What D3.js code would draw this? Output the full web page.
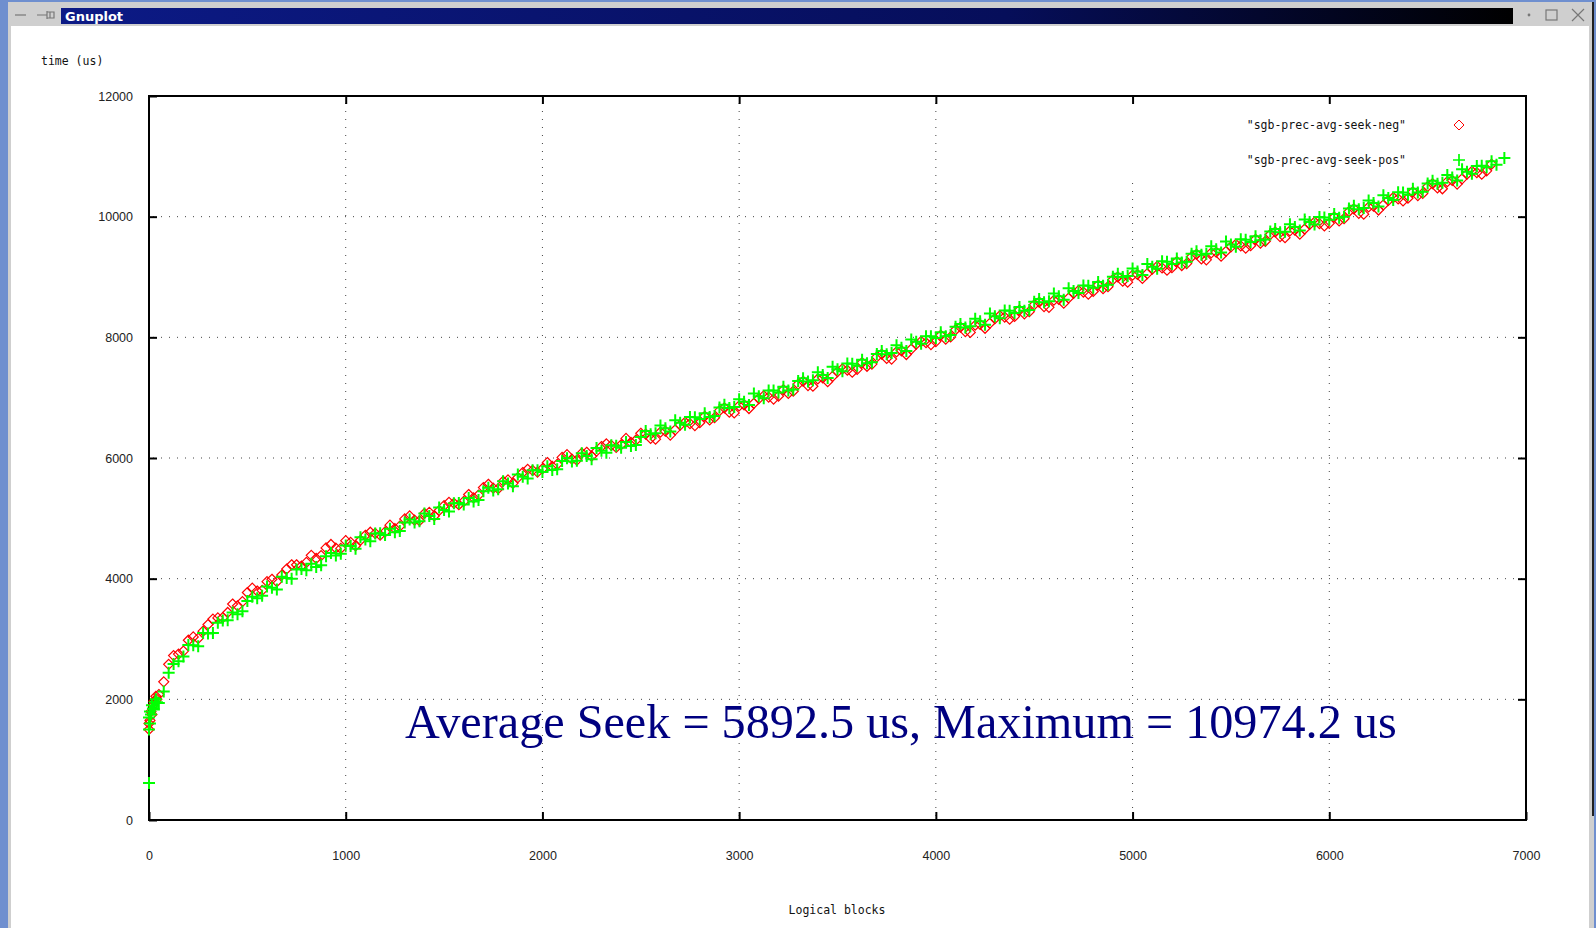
<!doctype html>
<meta charset=utf8>
<title>Gnuplot</title>
<style>
  body {
    margin: 0;
    background: #6f8fcf;
  }

  svg {
    display: block;
  }

  .tick text {
    font-family: "Liberation Sans", Arial, sans-serif;
    font-size: 12.5px;
    fill: #222;
  }

  .mono {
    font-family: "DejaVu Sans Mono", monospace;
    font-size: 11.5px;
    fill: #111;
  }

  .grid line {
    stroke: #444;
    stroke-width: 1;
    stroke-dasharray: 1, 7;
  }
</style>
<svg width=1596 height=928 viewBox="0 0 1596 928"></svg>
<script src=https://d3js.org/d3.v7.min.js></script>
<script>
  // axis ticks
  var xTicks = [0, 1000, 2000, 3000, 4000, 5000, 6000, 7000];
  var yTicks = [0, 2000, 4000, 6000, 8000, 10000, 12000];

  var seriesNames = ['"sgb-prec-avg-seek-neg"', '"sgb-prec-avg-seek-pos"'];
  var summary = 'Average Seek = 5892.5 us, Maximum = 10974.2 us';

  // red diamonds (logical block, time in us)
  var negPoints = [
    [0, 1500], [0, 1600], [5, 1650], [10, 1800], [15, 1750], [20, 1900], [25, 1970], [35, 2050], [40, 2000],
    [50, 2080], [75, 2290], [100, 2580], [125, 2725], [150, 2750], [175, 2800], [200, 2980], [225, 3035],
    [250, 3010], [275, 3130], [300, 3240], [325, 3330], [350, 3350], [375, 3355], [400, 3440], [425, 3580],
    [450, 3550], [475, 3620], [500, 3770], [525, 3842], [550, 3795], [575, 3807], [600, 3950], [625, 3990],
    [650, 3950], [675, 4060], [700, 4160], [725, 4230], [750, 4230], [775, 4210], [800, 4270], [825, 4387],
    [850, 4335], [875, 4382], [900, 4510], [925, 4567], [950, 4505], [975, 4502], [1000, 4630], [1025, 4602],
    [1050, 4545], [1075, 4637], [1100, 4720], [1125, 4770], [1150, 4750], [1175, 4722], [1200, 4775],
    [1225, 4887], [1250, 4830], [1275, 4870], [1300, 4990], [1325, 5040], [1350, 4970], [1375, 4960],
    [1400, 5080], [1425, 5100], [1450, 5040], [1475, 5130], [1500, 5210], [1525, 5265], [1550, 5250],
    [1575, 5225], [1600, 5280], [1625, 5395], [1650, 5340], [1675, 5385], [1700, 5510], [1725, 5565],
    [1750, 5500], [1775, 5492], [1800, 5615], [1825, 5637], [1850, 5580], [1875, 5675], [1900, 5760],
    [1925, 5812], [1950, 5795], [1975, 5767], [2000, 5820], [2025, 5925], [2050, 5860], [2075, 5895],
    [2100, 6010], [2125, 6055], [2150, 5980], [2175, 5965], [2200, 6080], [2225, 6095], [2250, 6030],
    [2275, 6115], [2300, 6190], [2325, 6235], [2350, 6210], [2375, 6175], [2400, 6220], [2425, 6325],
    [2450, 6260], [2475, 6295], [2500, 6410], [2525, 6397], [2550, 6325], [2575, 6312], [2600, 6430],
    [2625, 6445], [2650, 6380], [2675, 6467], [2700, 6545], [2725, 6592], [2750, 6570], [2775, 6537],
    [2800, 6585], [2825, 6692], [2850, 6630], [2875, 6667], [2900, 6785], [2925, 6832], [2950, 6760],
    [2975, 6747], [3000, 6865], [3025, 6882], [3050, 6820], [3075, 6907], [3100, 6985], [3125, 7032],
    [3150, 7010], [3175, 6977], [3200, 7025], [3225, 7132], [3250, 7070], [3275, 7107], [3300, 7225],
    [3325, 7272], [3350, 7200], [3375, 7190], [3400, 7310], [3425, 7327], [3450, 7265], [3475, 7352],
    [3500, 7430], [3525, 7477], [3550, 7455], [3575, 7422], [3600, 7470], [3625, 7580], [3650, 7520],
    [3675, 7557], [3700, 7675], [3725, 7722], [3750, 7650], [3775, 7640], [3800, 7760], [3825, 7777],
    [3850, 7715], [3875, 7805], [3900, 7885], [3925, 7932], [3950, 7910], [3975, 7880], [4000, 7930],
    [4025, 8035], [4050, 7970], [4075, 8007], [4100, 8125], [4125, 8170], [4150, 8095], [4175, 8082],
    [4200, 8200], [4225, 8215], [4250, 8150], [4275, 8235], [4300, 8310], [4325, 8357], [4350, 8335],
    [4375, 8300], [4400, 8345], [4425, 8452], [4450, 8390], [4475, 8425], [4500, 8540], [4525, 8585],
    [4550, 8510], [4575, 8497], [4600, 8615], [4625, 8630], [4650, 8565], [4675, 8652], [4700, 8730],
    [4725, 8775], [4750, 8750], [4775, 8715], [4800, 8760], [4825, 8867], [4850, 8805], [4875, 8840],
    [4900, 8955], [4925, 9002], [4950, 8930], [4975, 8915], [5000, 9030], [5025, 9042], [5050, 8975],
    [5075, 9057], [5100, 9130], [5125, 9175], [5150, 9150], [5175, 9112], [5200, 9155], [5225, 9257],
    [5250, 9190], [5275, 9222], [5300, 9335], [5325, 9377], [5350, 9300], [5375, 9285], [5400, 9400],
    [5425, 9412], [5450, 9345], [5475, 9427], [5500, 9500], [5525, 9542], [5550, 9515], [5575, 9477],
    [5600, 9520], [5625, 9625], [5650, 9560], [5675, 9592], [5700, 9705], [5725, 9747], [5750, 9670],
    [5775, 9652], [5800, 9765], [5825, 9777], [5850, 9710], [5875, 9795], [5900, 9870], [5925, 9912],
    [5950, 9885], [5975, 9847], [6000, 9890], [6025, 9995], [6050, 9930], [6075, 9967], [6100, 10085],
    [6125, 10130], [6150, 10055], [6175, 10042], [6200, 10160], [6225, 10175], [6250, 10110],
    [6275, 10195], [6300, 10270], [6325, 10317], [6350, 10295], [6375, 10260], [6400, 10305],
    [6425, 10412], [6450, 10350], [6475, 10385], [6500, 10500], [6525, 10547], [6550, 10475],
    [6575, 10462], [6600, 10580], [6625, 10600], [6650, 10540], [6675, 10627], [6700, 10705],
    [6725, 10752], [6750, 10730], [6775, 10705], [6800, 10760], [6825, 10870]
  ];

  // green crosses (logical block, time in us)
  var posPoints = [
    [0, 613], [0, 1500], [0, 1700], [5, 1600], [5, 1800], [10, 1750], [15, 1900], [20, 1850], [25, 1830],
    [30, 1950], [35, 2000], [40, 1950], [50, 1940], [75, 2130], [100, 2440], [125, 2585], [150, 2630],
    [175, 2710], [200, 2900], [225, 2895], [250, 2880], [275, 3100], [300, 3090], [325, 3100], [350, 3270],
    [375, 3305], [400, 3310], [425, 3440], [450, 3410], [475, 3460], [500, 3630], [525, 3702], [550, 3675],
    [575, 3717], [600, 3870], [625, 3850], [650, 3820], [675, 4030], [700, 4010], [725, 4000], [750, 4150],
    [775, 4160], [800, 4140], [825, 4247], [850, 4195], [875, 4222], [900, 4370], [925, 4427], [950, 4385],
    [975, 4412], [1000, 4550], [1025, 4542], [1050, 4495], [1075, 4687], [1100, 4650], [1125, 4620],
    [1150, 4750], [1175, 4752], [1200, 4725], [1225, 4827], [1250, 4770], [1275, 4790], [1300, 4930],
    [1325, 4980], [1350, 4930], [1375, 4950], [1400, 5080], [1425, 5040], [1450, 4990], [1475, 5180],
    [1500, 5140], [1525, 5115], [1550, 5250], [1575, 5255], [1600, 5230], [1625, 5335], [1650, 5280],
    [1675, 5305], [1700, 5450], [1725, 5505], [1750, 5460], [1775, 5482], [1800, 5615], [1825, 5577],
    [1850, 5530], [1875, 5725], [1900, 5690], [1925, 5662], [1950, 5795], [1975, 5797], [2000, 5770],
    [2025, 5865], [2050, 5800], [2075, 5815], [2100, 5950], [2125, 5995], [2150, 5940], [2175, 5955],
    [2200, 6080], [2225, 6035], [2250, 5980], [2275, 6165], [2300, 6120], [2325, 6085], [2350, 6210],
    [2375, 6205], [2400, 6170], [2425, 6265], [2450, 6200], [2475, 6215], [2500, 6350], [2525, 6447],
    [2550, 6395], [2575, 6412], [2600, 6540], [2625, 6495], [2650, 6440], [2675, 6627], [2700, 6585],
    [2725, 6552], [2750, 6680], [2775, 6677], [2800, 6645], [2825, 6742], [2850, 6680], [2875, 6697],
    [2900, 6835], [2925, 6882], [2950, 6830], [2975, 6847], [3000, 6975], [3025, 6932], [3050, 6880],
    [3075, 7067], [3100, 7025], [3125, 6992], [3150, 7120], [3175, 7117], [3200, 7085], [3225, 7182],
    [3250, 7120], [3275, 7137], [3300, 7275], [3325, 7322], [3350, 7270], [3375, 7290], [3400, 7420],
    [3425, 7377], [3450, 7325], [3475, 7512], [3500, 7470], [3525, 7437], [3550, 7565], [3575, 7562],
    [3600, 7530], [3625, 7630], [3650, 7570], [3675, 7587], [3700, 7725], [3725, 7772], [3750, 7720],
    [3775, 7740], [3800, 7870], [3825, 7827], [3850, 7775], [3875, 7965], [3900, 7925], [3925, 7892],
    [3950, 8020], [3975, 8020], [4000, 7990], [4025, 8085], [4050, 8020], [4075, 8037], [4100, 8175],
    [4125, 8220], [4150, 8165], [4175, 8182], [4200, 8310], [4225, 8265], [4250, 8210], [4275, 8395],
    [4300, 8350], [4325, 8317], [4350, 8445], [4375, 8440], [4400, 8405], [4425, 8502], [4450, 8440],
    [4475, 8455], [4500, 8590], [4525, 8635], [4550, 8580], [4575, 8597], [4600, 8725], [4625, 8680],
    [4650, 8625], [4675, 8812], [4700, 8770], [4725, 8735], [4750, 8860], [4775, 8855], [4800, 8820],
    [4825, 8917], [4850, 8855], [4875, 8870], [4900, 9005], [4925, 9052], [4950, 9000], [4975, 9015],
    [5000, 9140], [5025, 9092], [5050, 9035], [5075, 9217], [5100, 9170], [5125, 9135], [5150, 9260],
    [5175, 9252], [5200, 9215], [5225, 9307], [5250, 9240], [5275, 9252], [5300, 9385], [5325, 9427],
    [5350, 9370], [5375, 9385], [5400, 9510], [5425, 9462], [5450, 9405], [5475, 9587], [5500, 9540],
    [5525, 9502], [5550, 9625], [5575, 9617], [5600, 9580], [5625, 9675], [5650, 9610], [5675, 9622],
    [5700, 9755], [5725, 9797], [5750, 9740], [5775, 9752], [5800, 9875], [5825, 9827], [5850, 9770],
    [5875, 9955], [5900, 9910], [5925, 9872], [5950, 9995], [5975, 9987], [6000, 9950], [6025, 10045],
    [6050, 9980], [6075, 9997], [6100, 10135], [6125, 10180], [6150, 10125], [6175, 10142], [6200, 10270],
    [6225, 10225], [6250, 10170], [6275, 10355], [6300, 10310], [6325, 10277], [6350, 10405],
    [6375, 10400], [6400, 10365], [6425, 10462], [6450, 10400], [6475, 10415], [6500, 10550],
    [6525, 10597], [6550, 10545], [6575, 10562], [6600, 10690], [6625, 10650], [6650, 10600],
    [6675, 10787], [6700, 10745], [6725, 10712], [6750, 10840], [6775, 10845], [6800, 10820],
    [6825, 10920], [6850, 10860], [6890, 10974]
  ];

  var svg = d3.select('svg');

  // plot area in page pixels
  var plot = {left: 149, right: 1526, top: 96, bottom: 820};

  var x = d3.scaleLinear().domain([0, 7000]).range([plot.left, plot.right]);
  var y = d3.scaleLinear().domain([0, 12000]).range([plot.bottom, plot.top]);

  drawWindow();

  // grid (the key box hides the top of the right-hand vertical lines)
  var grid = svg.append('g').attr('class', 'grid');
  grid.selectAll('.gy')
    .data(yTicks.slice(1, -1))
    .enter().append('line')
    .attr('x1', plot.left + 4).attr('x2', plot.right - 4)
    .attr('y1', y).attr('y2', y);
  grid.selectAll('.gx')
    .data(xTicks.slice(1, -1))
    .enter().append('line')
    .attr('x1', x).attr('x2', x)
    .attr('y1', plot.bottom - 4)
    .attr('y2', function(d) { return x(d) > 1100 ? 177 : plot.top + 4; });

  // axes, ticks pointing inwards like gnuplot
  function styleAxis(g) {
    g.select('.domain').remove();
    g.selectAll('.tick line').attr('stroke', '#000').attr('stroke-width', 2);
  }

  svg.append('g')
    .attr('transform', 'translate(0,' + plot.bottom + ')')
    .call(d3.axisBottom(x).tickValues(xTicks).tickSize(-8).tickPadding(31).tickFormat(d3.format('d')))
    .call(styleAxis);
  svg.append('g')
    .attr('transform', 'translate(0,' + plot.top + ')')
    .call(d3.axisTop(x).tickValues(xTicks.slice(1, -1)).tickSize(-8).tickFormat(''))
    .call(styleAxis);
  svg.append('g')
    .attr('transform', 'translate(' + plot.left + ',0)')
    .call(d3.axisLeft(y).tickValues(yTicks).tickSize(-8).tickPadding(16).tickFormat(d3.format('d')))
    .call(styleAxis);
  svg.append('g')
    .attr('transform', 'translate(' + plot.right + ',0)')
    .call(d3.axisRight(y).tickValues(yTicks.slice(1, -1)).tickSize(-8).tickFormat(''))
    .call(styleAxis);

  svg.selectAll('.tick text').attr('font-family', null).attr('font-size', null);

  // border
  svg.append('rect')
    .attr('x', plot.left).attr('y', plot.top)
    .attr('width', plot.right - plot.left).attr('height', plot.bottom - plot.top)
    .attr('fill', 'none').attr('stroke', '#000').attr('stroke-width', 2);

  svg.append('text').attr('class', 'mono')
    .attr('x', 41).attr('y', 65)
    .text('time (us)');
  svg.append('text').attr('class', 'mono')
    .attr('x', 837).attr('y', 914).attr('text-anchor', 'middle')
    .text('Logical blocks');

  var diamond = 'M0,-5L5,0L0,5L-5,0Z';
  var cross = 'M-6,0H6M0,-6V6';

  svg.append('g').selectAll('path')
    .data(negPoints)
    .enter().append('path')
    .attr('transform', function(d) { return 'translate(' + x(d[0]) + ',' + y(d[1]) + ')'; })
    .attr('d', diamond)
    .attr('fill', 'none').attr('stroke', '#ff0000').attr('stroke-width', 1.2);

  svg.append('g').selectAll('path')
    .data(posPoints)
    .enter().append('path')
    .attr('transform', function(d) { return 'translate(' + x(d[0]) + ',' + y(d[1]) + ')'; })
    .attr('d', cross)
    .attr('fill', 'none').attr('stroke', '#00ff00').attr('stroke-width', 2);

  // key
  var key = svg.append('g');
  seriesNames.forEach(function(name, i) {
    var ky = 125 + i * 35;
    key.append('text').attr('class', 'mono')
      .attr('x', 1406).attr('y', ky + 4).attr('text-anchor', 'end')
      .text(name);
    key.append('path')
      .attr('transform', 'translate(1459,' + ky + ')')
      .attr('d', i === 0 ? diamond : cross)
      .attr('fill', 'none')
      .attr('stroke', i === 0 ? '#ff0000' : '#00ff00')
      .attr('stroke-width', i === 0 ? 1 : 1.7);
  });

  // the big label, sized to the width it takes in the picture
  var label = svg.append('text')
    .attr('x', 405).attr('y', 738)
    .attr('font-family', '"Liberation Serif", "Times New Roman", serif')
    .attr('font-size', 50)
    .attr('fill', '#000080')
    .text(summary);
  var w = label.node().getComputedTextLength();
  label.attr('font-size', 50 * 992 / w);

  function drawWindow() {
    svg.append('rect').attr('width', 1596).attr('height', 928).attr('fill', '#6f8fcf');
    svg.append('rect').attr('x', 8).attr('y', 2).attr('width', 1586).attr('height', 926).attr('fill', '#cfcfcf');
    svg.append('rect').attr('x', 1592).attr('y', 2).attr('width', 2).attr('height', 814).attr('fill', '#222');
    svg.append('rect').attr('x', 11).attr('y', 26).attr('width', 1578).attr('height', 902).attr('fill', '#fff');

    var grad = svg.append('defs').append('linearGradient').attr('id', 'tb');
    grad.append('stop').attr('offset', '0%').attr('stop-color', '#0c1a86');
    grad.append('stop').attr('offset', '65%').attr('stop-color', '#060e5a');
    grad.append('stop').attr('offset', '100%').attr('stop-color', '#000');
    svg.append('rect').attr('x', 61).attr('y', 8).attr('width', 1452).attr('height', 16).attr('fill', 'url(#tb)');
    svg.append('text')
      .attr('x', 65).attr('y', 21)
      .attr('font-family', '"DejaVu Sans", sans-serif').attr('font-weight', 'bold').attr('font-size', 13)
      .attr('fill', '#fff')
      .text('Gnuplot');

    var icons = svg.append('g').attr('stroke', '#777').attr('fill', 'none').attr('stroke-width', 1.2);
    icons.append('path').attr('d', 'M15,15H26');
    icons.append('path').attr('d', 'M37,15H47M47,11V19M47,12H54V18H47M50,12V18');
    icons.append('circle').attr('cx', 1529).attr('cy', 15).attr('r', 0.8).attr('fill', '#777');
    icons.append('rect').attr('x', 1546).attr('y', 10).attr('width', 11).attr('height', 10);
    icons.append('path').attr('d', 'M1572,9L1584,21M1584,9L1572,21');
  }
</script>
